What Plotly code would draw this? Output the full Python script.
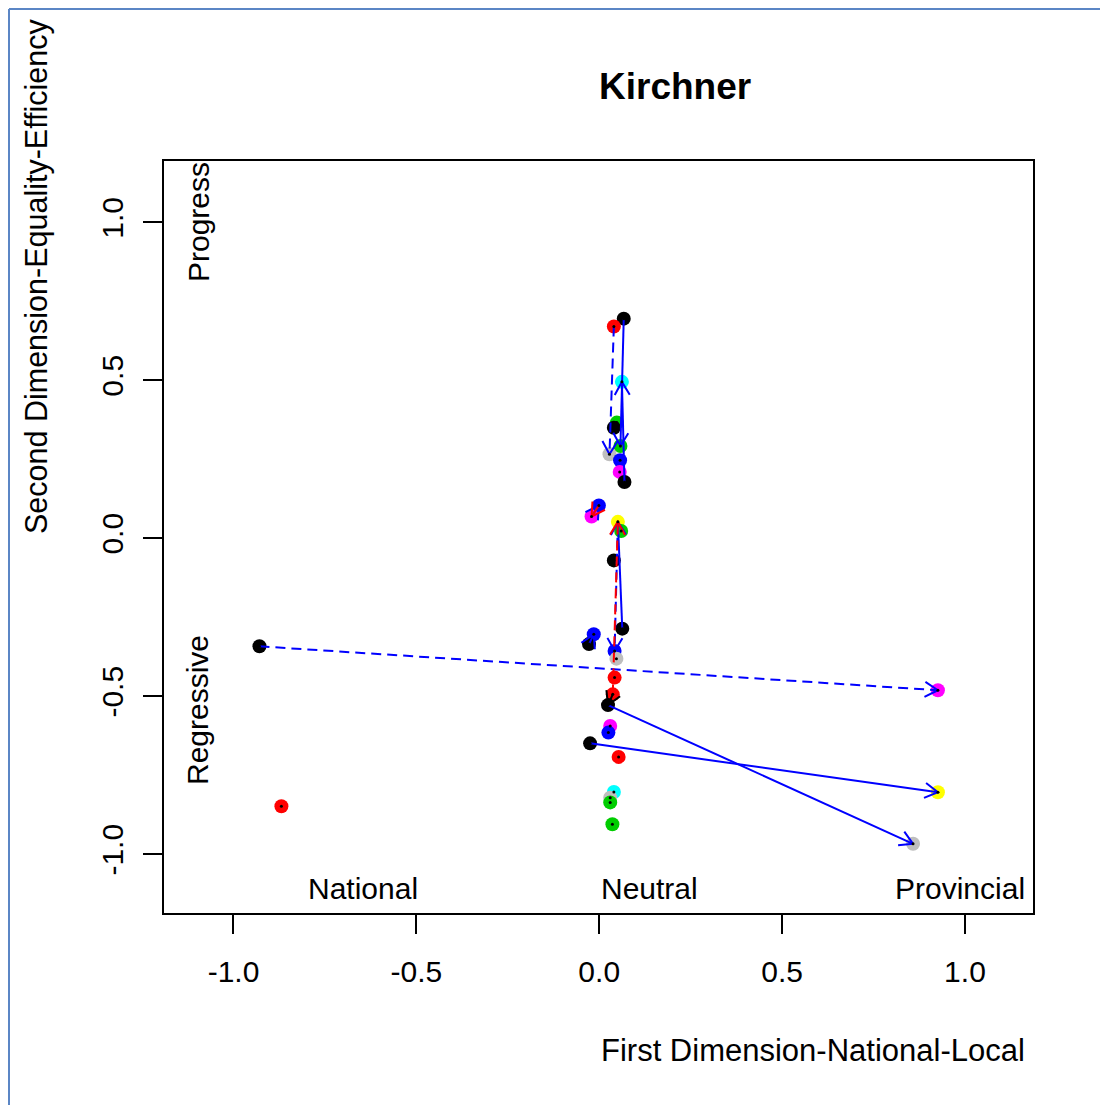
import math
import plotly.graph_objects as go

# points
pt_x = [0.067, 0.040, 0.062, 0.048, 0.040, 0.058, 0.028, 0.057, 0.056, 0.069,
        -0.001, -0.021, 0.051, 0.060, 0.040, 0.063, -0.015, -0.028, 0.042, 0.047,
        0.042, 0.037, 0.024, 0.030, 0.025, -0.025, 0.053, 0.040, 0.030, 0.030,
        0.036, -0.929, -0.869, 0.926, 0.926, 0.858]
pt_y = [0.695, 0.670, 0.495, 0.366, 0.350, 0.292, 0.266, 0.247, 0.210, 0.178,
        0.104, 0.069, 0.052, 0.023, -0.070, -0.286, -0.304, -0.335, -0.357, -0.381,
        -0.441, -0.494, -0.528, -0.594, -0.615, -0.649, -0.692, -0.803, -0.821, -0.836,
        -0.905, -0.342, -0.848, -0.481, -0.804, -0.967]
pt_col = ["black", "red", "cyan", "green3", "black", "green3", "grey", "blue", "magenta", "black",
          "blue", "magenta", "yellow", "green3", "black", "black", "blue", "black", "blue", "grey",
          "red", "red", "black", "magenta", "blue", "black", "red", "cyan", "grey", "green3",
          "green3", "black", "red", "magenta", "yellow", "grey"]

# arrows: index of start point -> index of end point
arrow_from = [0, 9, 15, 25, 22, 17, 11, 31, 1, 12, 21, 10, 21]
arrow_to = [5, 2, 12, 34, 35, 16, 10, 33, 6, 18, 12, 11, 22]
arrow_col = ["blue", "blue", "blue", "blue", "blue", "blue", "blue", "blue", "blue", "blue",
             "red", "red", "black"]
arrow_dashed = [False, False, False, False, False, False, False, True, True, True,
                True, False, False]

axis_ticks = [-1.0, -0.5, 0.0, 0.5, 1.0]
tick_text = ["-1.0", "-0.5", "0.0", "0.5", "1.0"]

colmap = {"black": "#000000", "red": "#FF0000", "cyan": "#00FFFF", "green3": "#00CD00",
          "grey": "#BEBEBE", "blue": "#0000FF", "magenta": "#FF00FF", "yellow": "#FFFF00"}

# page offset of the plot div (body margin)
OFF = 8
W, H = 1108 - OFF, 1105 - OFF
L, R, T, B = 164 - OFF, 1033 - OFF, 161 - OFF, 913 - OFF
xr = [-1.19, 1.186]
yr = [-1.186, 1.194]
sx = (R - L) / (xr[1] - xr[0])
sy = (B - T) / (yr[1] - yr[0])

FONT = "Liberation Sans, Arial, sans-serif"


def px(p):
    return (p - OFF - L) / (R - L)


def py(p):
    return (B - (p - OFF)) / (B - T)


fig = go.Figure()

fig.add_trace(go.Scatter(x=pt_x, y=pt_y, mode="markers",
                         marker=dict(size=14, color=[colmap[c] for c in pt_col], line_width=0),
                         showlegend=False, hoverinfo="skip"))

head_len = 15
for i, j, c, d in zip(arrow_from, arrow_to, arrow_col, arrow_dashed):
    x0, y0, x1, y1 = pt_x[i], pt_y[i], pt_x[j], pt_y[j]
    fig.add_trace(go.Scatter(x=[x0, x1], y=[y0, y1], mode="lines",
                             line=dict(color=colmap[c], width=2, dash="10px,6px" if d else "solid"),
                             showlegend=False, hoverinfo="skip"))
    ang = math.atan2((y1 - y0) * sy, (x1 - x0) * sx)
    hx, hy = [], []
    for s in (1, -1):
        a = ang + s * math.pi / 6
        hx.append(x1 - head_len * math.cos(a) / sx)
        hy.append(y1 - head_len * math.sin(a) / sy)
    fig.add_trace(go.Scatter(x=[hx[0], x1, hx[1]], y=[hy[0], y1, hy[1]], mode="lines",
                             line=dict(color=colmap[c], width=2),
                             showlegend=False, hoverinfo="skip"))

fig.add_trace(go.Scatter(x=pt_x, y=pt_y, mode="markers",
                         marker=dict(size=3, color="black", line_width=0),
                         showlegend=False, hoverinfo="skip"))

axis_common = dict(showgrid=False, zeroline=False, showline=True, mirror=True,
                   linecolor="black", linewidth=1.5, ticks="outside", ticklen=19,
                   tickwidth=1.5, tickcolor="black", tickvals=axis_ticks, ticktext=tick_text,
                   tickfont=dict(family=FONT, size=30, color="black"))
fig.update_xaxes(range=xr, ticklabelstandoff=12, **axis_common)
fig.update_yaxes(range=yr, tickangle=-90, ticklabelstandoff=8, **axis_common)

ann = [
    dict(text="<b>Kirchner</b>", x=px(675), y=py(86), font=dict(size=37)),
    dict(text="First Dimension-National-Local", x=px(813), y=py(1050), font=dict(size=31)),
    dict(text="Second Dimension-Equality-Efficiency", x=px(36), y=py(536), textangle=-90,
         yanchor="bottom", font=dict(size=30.5)),
    dict(text="National", x=px(363), y=py(888), font=dict(size=30)),
    dict(text="Neutral", x=px(649), y=py(888), font=dict(size=30)),
    dict(text="Provincial", x=px(960), y=py(888), font=dict(size=30)),
    dict(text="Progress", x=px(198), y=py(284), textangle=-90, yanchor="bottom",
         font=dict(size=30)),
    dict(text="Regressive", x=px(197), y=py(710), textangle=-90, font=dict(size=30)),
]
for a in ann:
    a.setdefault("yanchor", "middle")
    a["font"] = dict(family=FONT, color="black", **a["font"])
    fig.add_annotation(xref="paper", yref="paper", showarrow=False, xanchor="center", **a)

# light blue frame on the left and top edges of the picture
frame = dict(type="line", xref="paper", yref="paper", line=dict(color="#5B86C5", width=2))
fig.add_shape(x0=px(9), x1=px(1115), y0=py(9), y1=py(9), **frame)
fig.add_shape(x0=px(9), x1=px(9), y0=py(9), y1=py(1115), **frame)

fig.update_layout(width=W, height=H, margin=dict(l=L, r=W - R, t=T, b=H - B),
                  plot_bgcolor="white", paper_bgcolor="white",
                  font=dict(family=FONT, color="black"))

fig.write_html("out.html")
